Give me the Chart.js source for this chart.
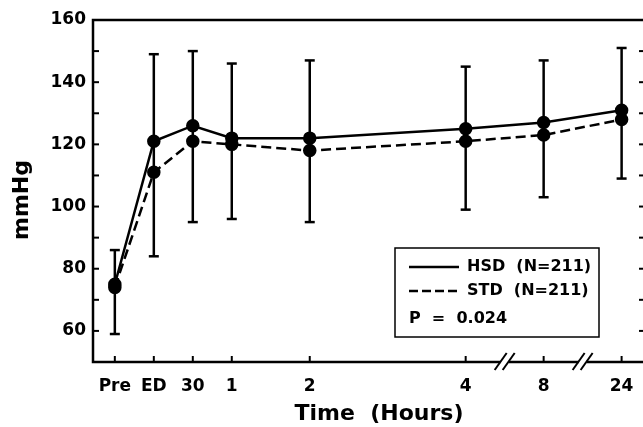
<!DOCTYPE html>
<html>
<head>
<meta charset="utf-8">
<script src="https://cdn.jsdelivr.net/npm/chart.js@4.4.0/dist/chart.umd.min.js"></script>
<style>
  html, body { margin: 0; padding: 0; background: #fff; overflow: hidden; }
  canvas { display: block; }
</style>
</head>
<body>
<canvas id="bpChart" width="665" height="427"></canvas>
<script>
// time points: Pre, ED, 30 min, then hours (axis is broken after 4 h and after 8 h)
const timeLabels = ['Pre', 'ED', '30', '1', '2', '4', '8', '24'];
const timeValues = [-0.5, 0, 0.5, 1, 2, 4, 5, 6];
const axisBreaks = [4.5, 5.5];

// mean pressure (mmHg)
const hsdMean = [75, 121, 126, 122, 122, 125, 127, 131];
const stdMean = [74, 111, 121, 120, 118, 121, 123, 128];
// error bar ends
const errHigh = [86, 149, 150, 146, 147, 145, 147, 151];
const errLow  = [59, 84, 95, 96, 95, 99, 103, 109];

const yTickLabels = [60, 80, 100, 120, 140, 160];

const FONT = "'DejaVu Sans', 'Liberation Sans', Arial, sans-serif";
Chart.defaults.font.family = FONT;
Chart.defaults.font.weight = 'bold';
Chart.defaults.color = '#000';

function seg(ctx, x1, y1, x2, y2) {
    ctx.beginPath();
    ctx.moveTo(x1, y1);
    ctx.lineTo(x2, y2);
    ctx.stroke();
}

// error bars, frame with inward ticks, axis breaks, axis titles, legend box
const extras = {
    id: 'extras',
    beforeDatasetsDraw(chart) {
        const { ctx, scales: { x, y } } = chart;
        ctx.save();
        ctx.strokeStyle = '#000';
        ctx.lineWidth = 2.5;
        timeValues.forEach((t, i) => {
            const px = x.getPixelForValue(t);
            const top = y.getPixelForValue(errHigh[i]);
            const bot = y.getPixelForValue(errLow[i]);
            seg(ctx, px, top, px, bot);
            seg(ctx, px - 5, top, px + 5, top);
            seg(ctx, px - 5, bot, px + 5, bot);
        });
        ctx.restore();
    },
    afterDatasetsDraw(chart) {
        const { ctx, chartArea: a, scales: { x, y } } = chart;
        ctx.save();
        ctx.strokeStyle = '#000';
        ctx.lineWidth = 2.5;
        ctx.strokeRect(a.left, a.top, a.right - a.left, a.bottom - a.top);

        ctx.lineWidth = 2;
        for (let v = 60; v < 160; v += 10) {
            const py = y.getPixelForValue(v);
            seg(ctx, a.left, py, a.left + 6, py);
            seg(ctx, a.right, py, a.right - 6, py);
        }
        timeValues.forEach(t => {
            const px = x.getPixelForValue(t);
            seg(ctx, px, a.bottom, px, a.bottom - 6);
        });

        axisBreaks.forEach(t => {
            const px = x.getPixelForValue(t);
            ctx.fillStyle = '#fff';
            ctx.fillRect(px - 4, a.bottom - 3, 8, 6);
            [-4, 4].forEach(d => seg(ctx, px + d - 6, a.bottom + 8, px + d + 6, a.bottom - 9));
        });

        // axis titles
        ctx.fillStyle = '#000';
        ctx.font = 'bold 22px ' + FONT;
        ctx.textAlign = 'center';
        ctx.textBaseline = 'middle';
        ctx.fillText('Time  (Hours)', (a.left + a.right) / 2 + 10, a.bottom + 52);
        ctx.save();
        ctx.translate(22, (a.top + a.bottom) / 2 + 9);
        ctx.rotate(-Math.PI / 2);
        ctx.fillText('mmHg', 0, 0);
        ctx.restore();

        // legend
        const bx = a.right - 250, by = a.bottom - 114, bw = 204, bh = 89;
        ctx.lineWidth = 1.5;
        ctx.strokeRect(bx, by, bw, bh);
        ctx.lineWidth = 2.5;
        seg(ctx, bx + 14, by + 19, bx + 64, by + 19);
        ctx.setLineDash([9, 4]);
        seg(ctx, bx + 14, by + 43, bx + 64, by + 43);
        ctx.setLineDash([]);
        ctx.font = 'bold 16px ' + FONT;
        ctx.textAlign = 'left';
        ctx.fillText('HSD  (N=211)', bx + 72, by + 19);
        ctx.fillText('STD  (N=211)', bx + 72, by + 43);
        ctx.fillText('P  =  0.024', bx + 14, by + 71);
        ctx.restore();
    }
};

new Chart(document.getElementById('bpChart'), {
    type: 'line',
    data: {
        datasets: [
            {
                label: 'HSD (N=211)',
                data: timeValues.map((t, i) => ({ x: t, y: hsdMean[i] })),
                borderColor: '#000',
                borderWidth: 2.5,
                pointRadius: 5.5,
                pointBackgroundColor: '#000',
                pointBorderColor: '#000',
                tension: 0
            },
            {
                label: 'STD (N=211)',
                data: timeValues.map((t, i) => ({ x: t, y: stdMean[i] })),
                borderColor: '#000',
                borderWidth: 2.5,
                borderDash: [10, 5],
                pointRadius: 5.5,
                pointBackgroundColor: '#000',
                pointBorderColor: '#000',
                tension: 0
            }
        ]
    },
    options: {
        responsive: false,
        animation: false,
        layout: { padding: { top: 20, right: 20, left: 0, bottom: 0 } },
        plugins: { legend: { display: false }, tooltip: { enabled: false } },
        scales: {
            x: {
                type: 'linear',
                min: -0.78,
                max: 6.3,
                afterBuildTicks: s => { s.ticks = timeValues.map(v => ({ value: v })); },
                afterFit: s => { s.height = 65; },
                grid: { display: false, drawTicks: false },
                border: { display: false },
                ticks: {
                    autoSkip: false,
                    maxRotation: 0,
                    padding: 14,
                    font: { size: 17 },
                    callback: (v, i) => timeLabels[i]
                }
            },
            y: {
                min: 50,
                max: 160,
                afterFit: s => { s.width = 93; },
                grid: { display: false, drawTicks: false },
                border: { display: false },
                ticks: {
                    autoSkip: false,
                    stepSize: 10,
                    padding: 7,
                    font: { size: 17 },
                    callback: v => yTickLabels.includes(v) ? v : ''
                }
            }
        }
    },
    plugins: [extras]
});
</script>
</body>
</html>
